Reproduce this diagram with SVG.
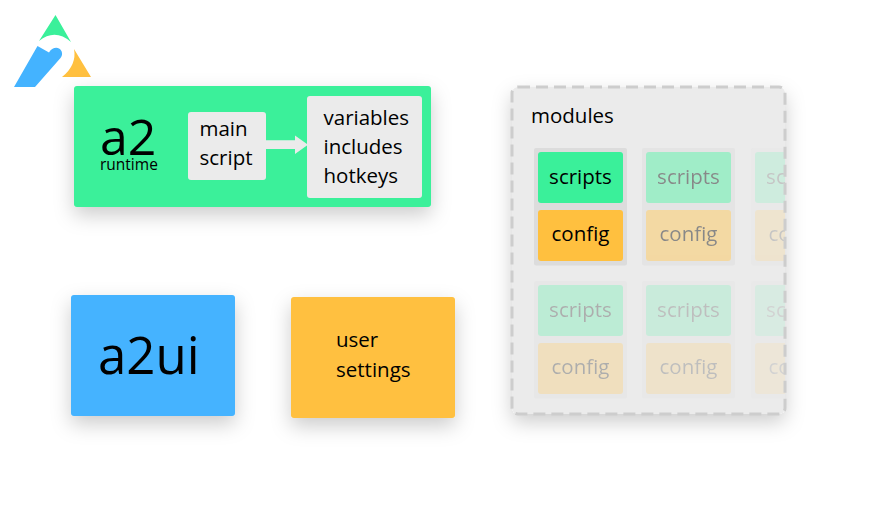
<svg xmlns="http://www.w3.org/2000/svg" width="871" height="508" viewBox="0 0 871 508">
<style>
text{font-family:"Open Sans","Noto Sans","Liberation Sans",sans-serif;fill:#000}
.l{font-size:20.500px}
.c{font-size:20.500px;text-anchor:middle}
.g{fill:#3af09a}.y{fill:#ffc03f}.b{fill:#44b3ff}.k{fill:#ebebeb}
</style>
<defs>
<filter id="s" x="-30%" y="-30%" width="160%" height="170%"><feDropShadow dx="0" dy="8" stdDeviation="10" flood-color="#000" flood-opacity=".2"/></filter>
<filter id="soft" x="-5%" y="-5%" width="110%" height="110%"><feGaussianBlur stdDeviation=".5"/></filter>
<clipPath id="clip"><rect x="512" y="87" width="273" height="327" rx="6"/></clipPath>
<g id="unit">
<rect x="-4" y="-4" width="93" height="117.500" fill="#dcdcdc" rx="2"/>
<rect width="85" height="51" rx="3" class="g"/>
<rect y="58" width="85" height="51" rx="3" class="y"/>
<text x="42.500" y="32" class="c">scripts</text>
<text x="42.500" y="89" class="c">config</text>
</g>
</defs>
<g id="logo">
<path class="g" d="M55.500,15 L71,42 Q55,28 39,41 Z"/>
<path class="y" d="M74,49 L91,77 L62,77 Q77,65 74,49 Z"/>
<path class="b" d="M37.500,46 L49,52.500 C51,48.500 56,46.500 59,48.500 C62.500,50.500 63,55 60.500,58 L35,87 L14,87 Z"/>
</g>
<g id="a2">
<rect x="74" y="86" width="357" height="121" rx="3" class="g" filter="url(#s)"/>
<text x="100" y="155" font-size="50">a2</text>
<text x="100" y="169.500" font-size="15.500">runtime</text>
</g>
<g id="main-script">
<rect x="188" y="112" width="78" height="68" rx="3" class="k"/>
<text x="199.500" y="136" class="l">main</text>
<text x="199.500" y="165" class="l">script</text>
</g>
<g id="connectors">
<path d="M266,140.300 H295 V135.500 L308,144.700 L295,154 V149 H266 Z" fill="#ebebeb"/>
</g>
<g id="vars">
<rect x="307" y="96" width="115" height="102" rx="3" class="k"/>
<text x="323.500" y="125" class="l">variables</text>
<text x="323.500" y="154" class="l">includes</text>
<text x="323.500" y="183" class="l">hotkeys</text>
</g>
<g id="a2ui">
<rect x="71" y="295" width="164" height="121" rx="3" class="b" filter="url(#s)"/>
<text x="98" y="374" font-size="51">a2ui</text>
</g>
<g id="user-settings">
<rect x="291" y="297" width="164" height="121" rx="3" class="y" filter="url(#s)"/>
<text x="336" y="347" class="l">user</text>
<text x="336" y="377" class="l">settings</text>
</g>
<g id="modules">
<rect x="512" y="87" width="273" height="327" rx="6" class="k" filter="url(#s)"/>
<text x="531" y="123" class="l">modules</text>
<g clip-path="url(#clip)">
<use href="#unit" x="538" y="152"/>
<use href="#unit" x="646" y="152" opacity=".42" filter="url(#soft)"/>
<use href="#unit" x="755" y="152" opacity=".16" filter="url(#soft)"/>
<use href="#unit" x="538" y="285" opacity=".26" filter="url(#soft)"/>
<use href="#unit" x="646" y="285" opacity=".19" filter="url(#soft)"/>
<use href="#unit" x="755" y="285" opacity=".1" filter="url(#soft)"/>
</g>
<rect x="512" y="87" width="273" height="327" rx="6" fill="none" stroke="#cdcdcd" stroke-width="3" stroke-dasharray="12 6"/>
</g>
</svg>
